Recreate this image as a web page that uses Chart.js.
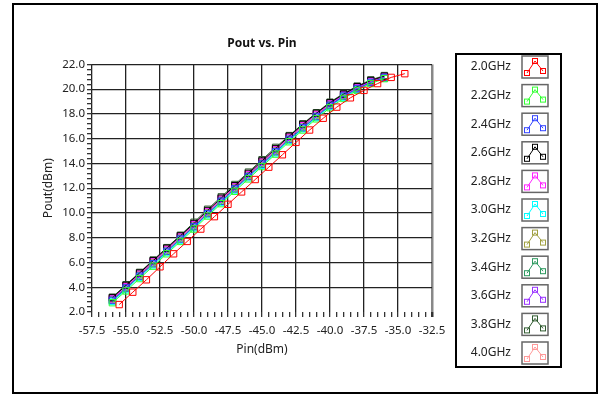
<!DOCTYPE html>
<html lang="en">
  <head>
    <meta charset="UTF-8" />
    <title>Pout vs. Pin</title>
    <script src="https://cdn.jsdelivr.net/npm/chart.js"></script>
    <style>
      body {
        margin: 0;
        background-color: #fff;
        font-family: "Noto Sans", sans-serif;
      }
      #myChart {
        display: block;
      }
    </style>
  </head>
  <body>
    <canvas id="myChart" width="602" height="395"></canvas>
    <script>
      // series names + colours
      const freqs = ["2.0GHz", "2.2GHz", "2.4GHz", "2.6GHz", "2.8GHz", "3.0GHz",
        "3.2GHz", "3.4GHz", "3.6GHz", "3.8GHz", "4.0GHz"];
      const colors = ["#ff0000", "#33ff33", "#3344ff", "#000000", "#ff22ff", "#00ffff",
        "#a0a040", "#2e9a60", "#9933ff", "#2f5a2f", "#ff9999"];

      // input power sweeps (dBm)
      const pinRed = [-55.5, -54.5, -53.5, -52.5, -51.5, -50.5, -49.5, -48.5, -47.5, -46.5, -45.5,
        -44.5, -43.5, -42.5, -41.5, -40.5, -39.5, -38.5, -37.5, -36.5, -35.5, -34.5];
      const pinMain = [-56, -55, -54, -53, -52, -51, -50, -49, -48, -47, -46,
        -45, -44, -43, -42, -41, -40, -39, -38, -37, -36];

      // output power (dBm) per frequency
      const pout20 = [2.6, 3.6, 4.6, 5.65, 6.7, 7.7, 8.7, 9.7, 10.7, 11.7, 12.7, 13.7, 14.7, 15.7, 16.7, 17.65, 18.55, 19.3, 19.9, 20.45, 20.95, 21.25];
      const pout22 = [2.75, 3.7, 4.7, 5.7, 6.7, 7.7, 8.7, 9.75, 10.75, 11.75, 12.75, 13.75, 14.75, 15.75, 16.7, 17.6, 18.5, 19.25, 19.9, 20.45, 20.85];
      const pout24 = [2.95, 3.95, 4.9, 5.9, 6.9, 7.9, 8.9, 9.95, 10.95, 11.95, 12.95, 13.95, 14.95, 15.95, 16.9, 17.8, 18.7, 19.45, 20.05, 20.55, 20.95];
      const pout26 = [3.15, 4.15, 5.15, 6.15, 7.15, 8.15, 9.15, 10.2, 11.2, 12.2, 13.2, 14.2, 15.2, 16.2, 17.15, 18.05, 18.9, 19.6, 20.2, 20.7, 21.05];
      const pout28 = [3.05, 4.05, 5.05, 6.05, 7.05, 8.05, 9.05, 10.1, 11.1, 12.1, 13.1, 14.1, 15.1, 16.1, 17.05, 17.95, 18.8, 19.5, 20.1, 20.6, 21.0];
      const pout30 = [2.85, 3.8, 4.8, 5.8, 6.8, 7.8, 8.8, 9.85, 10.85, 11.85, 12.85, 13.85, 14.85, 15.85, 16.8, 17.7, 18.6, 19.35, 19.95, 20.5, 20.9];
      const pout32 = [3.0, 4.0, 5.0, 6.0, 7.0, 8.0, 9.0, 10.05, 11.05, 12.05, 13.05, 14.05, 15.05, 16.05, 17.0, 17.9, 18.75, 19.45, 20.05, 20.6, 20.95];
      const pout34 = [2.9, 3.9, 4.9, 5.9, 6.9, 7.9, 8.9, 9.95, 10.95, 11.95, 12.95, 13.95, 14.95, 15.9, 16.85, 17.75, 18.65, 19.4, 20.0, 20.55, 20.9];
      const pout36 = [3.05, 4.05, 5.05, 6.05, 7.05, 8.05, 9.05, 10.1, 11.1, 12.1, 13.1, 14.1, 15.1, 16.1, 17.05, 17.95, 18.8, 19.55, 20.15, 20.65, 21.0];
      const pout38 = [3.2, 4.2, 5.2, 6.2, 7.2, 8.2, 9.25, 10.3, 11.3, 12.3, 13.3, 14.3, 15.3, 16.25, 17.2, 18.1, 18.95, 19.65, 20.25, 20.75, 21.1];
      const pout40 = [3.1, 4.1, 5.1, 6.1, 7.1, 8.1, 9.1, 10.15, 11.15, 12.15, 13.15, 14.15, 15.15, 16.15, 17.1, 18.0, 18.85, 19.55, 20.15, 20.65, 21.0];

      const poutList = [pout20, pout22, pout24, pout26, pout28, pout30, pout32, pout34, pout36, pout38, pout40];

      // axis ranges
      const xMin = -57.5, xMax = -32.5, xStep = 0.5;
      const yMin = 2, yMax = 22, yStep = 0.4;

      const tickFont = { family: "Noto Sans", size: 11.5 };
      const textColor = "#222";

      const datasets = poutList.map(function (pout, i) {
        const pin = i === 0 ? pinRed : pinMain;
        return {
          label: freqs[i],
          data: pout.map(function (v, j) { return { x: pin[j], y: v }; }),
          borderColor: colors[i],
          borderWidth: 1,
          pointStyle: "rect",
          pointRadius: 4.5,
          pointBorderWidth: 1,
          pointBorderColor: colors[i],
          pointBackgroundColor: "rgba(0,0,0,0)",
          tension: 0,
        };
      });

      // frame + legend box at the right
      const framePlugin = {
        id: "frame",
        afterDraw: function (chart) {
          const ctx = chart.ctx;
          ctx.save();
          ctx.strokeStyle = "#000";
          ctx.lineWidth = 2;
          ctx.strokeRect(13, 4, 584, 389);

          // legend
          ctx.strokeRect(456, 54, 105, 313);
          ctx.font = "12px 'Noto Sans'";
          ctx.textAlign = "right";
          ctx.textBaseline = "middle";
          chart.data.datasets.forEach(function (ds, i) {
            const y0 = 56 + i * 28.6;
            ctx.fillStyle = textColor;
            ctx.fillText(ds.label, 511, y0 + 11);

            ctx.lineWidth = 1.5;
            ctx.strokeStyle = "#666";
            ctx.strokeRect(522, y0, 26, 22);

            const pts = [[527, y0 + 17], [535, y0 + 5], [543, y0 + 15]];
            ctx.strokeStyle = ds.borderColor;
            ctx.lineWidth = 1;
            ctx.beginPath();
            pts.forEach(function (p, k) {
              if (k === 0) ctx.moveTo(p[0], p[1]);
              else ctx.lineTo(p[0], p[1]);
            });
            ctx.stroke();
            pts.forEach(function (p) {
              ctx.strokeRect(p[0] - 2.5, p[1] - 2.5, 5, 5);
            });
          });
          ctx.restore();
        },
      };

      const ctx = document.getElementById("myChart").getContext("2d");
      const myChart = new Chart(ctx, {
        type: "line",
        data: { datasets: datasets },
        options: {
          responsive: false,
          animation: false,
          devicePixelRatio: 1,
          layout: { padding: { left: 37, right: 170, top: 0, bottom: 34 } },
          plugins: {
            legend: { display: false },
            tooltip: { enabled: false },
            title: {
              display: true,
              text: "Pout vs. Pin",
              fullSize: false,
              color: "#111",
              font: { family: "Noto Sans", size: 12, weight: "bold" },
              padding: { top: 36, bottom: 14 },
            },
          },
          scales: {
            x: {
              type: "linear",
              min: xMin,
              max: xMax,
              border: { display: false },
              grid: {
                color: function (c) {
                  if (c.index === 50) return "#888";
                  return c.index % 5 === 0 ? "#222" : "rgba(0,0,0,0)";
                },
                lineWidth: function (c) { return c.index === 50 ? 2.5 : 1.3; },
                tickColor: "#333",
                tickLength: 5,
              },
              ticks: {
                stepSize: xStep,
                autoSkip: false,
                maxRotation: 0,
                color: textColor,
                font: tickFont,
                padding: 7,
                callback: function (v, i) { return i % 5 === 0 ? v.toFixed(1) : ""; },
              },
              title: {
                display: true,
                text: "Pin(dBm)",
                color: textColor,
                font: { family: "Noto Sans", size: 12 },
              },
              afterFit: function (scale) { scale.height = 49; },
            },
            y: {
              min: yMin,
              max: yMax,
              border: { display: false },
              grid: {
                color: function (c) {
                  if (c.index === 0) return "rgba(0,0,0,0)";
                  return c.index % 5 === 0 ? "#222" : "rgba(0,0,0,0)";
                },
                lineWidth: 1.3,
                tickColor: "#333",
                tickLength: 5,
              },
              ticks: {
                stepSize: yStep,
                autoSkip: false,
                color: textColor,
                font: tickFont,
                padding: 2,
                callback: function (v, i) { return i % 5 === 0 ? v.toFixed(1) : ""; },
              },
              title: {
                display: true,
                text: "Pout(dBm)",
                color: textColor,
                font: { family: "Noto Sans", size: 12 },
              },
              afterFit: function (scale) { scale.width = 55; },
            },
          },
        },
        plugins: [framePlugin],
      });
    </script>
  </body>
</html>
